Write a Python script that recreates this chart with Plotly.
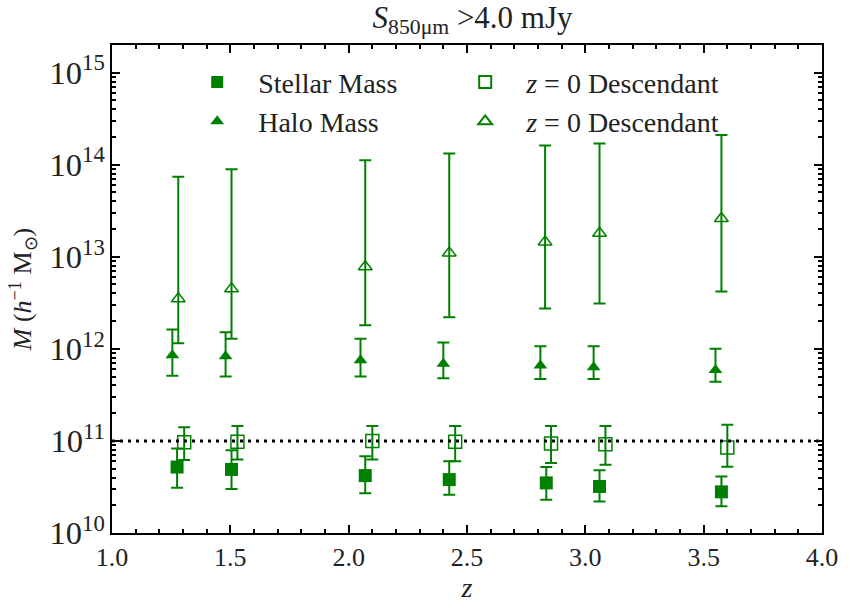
import plotly.graph_objects as go

# ---- data ----
z_stellar = [1.275, 1.505, 2.07, 2.425, 2.835, 3.06, 3.575]
m_stellar = [5.2e10, 4.9e10, 4.2e10, 3.8e10, 3.5e10, 3.2e10, 2.8e10]
m_stellar_hi = [8.3e10, 7.9e10, 6.8e10, 6.0e10, 5.2e10, 4.8e10, 4.1e10]
m_stellar_lo = [3.1e10, 3.0e10, 2.7e10, 2.6e10, 2.3e10, 2.2e10, 1.95e10]

z_sdesc = [1.305, 1.53, 2.10, 2.45, 2.855, 3.085, 3.60]
m_sdesc = [9.7e10, 9.8e10, 1.0e11, 9.8e10, 9.4e10, 9.2e10, 8.5e10]
m_sdesc_hi = [1.41e11, 1.45e11, 1.45e11, 1.45e11, 1.45e11, 1.45e11, 1.5e11]
m_sdesc_lo = [6.2e10, 6.3e10, 6.3e10, 6.0e10, 5.75e10, 5.5e10, 5.25e10]

z_halo = [1.255, 1.48, 2.05, 2.40, 2.81, 3.035, 3.55]
m_halo = [8.5e11, 8.3e11, 7.5e11, 6.9e11, 6.6e11, 6.3e11, 5.9e11]
m_halo_hi = [1.62e12, 1.51e12, 1.29e12, 1.17e12, 1.07e12, 1.07e12, 1.0e12]
m_halo_lo = [5.1e11, 5.0e11, 5.0e11, 4.8e11, 4.7e11, 4.7e11, 4.4e11]

z_hdesc = [1.28, 1.505, 2.07, 2.425, 2.83, 3.06, 3.575]
m_hdesc = [3.5e12, 4.5e12, 7.8e12, 1.1e13, 1.45e13, 1.8e13, 2.6e13]
m_hdesc_hi = [7.4e13, 8.9e13, 1.12e14, 1.32e14, 1.62e14, 1.7e14, 2.1e14]
m_hdesc_lo = [1.15e12, 1.29e12, 1.8e12, 2.2e12, 2.75e12, 3.1e12, 4.2e12]

reference_mass = 1e11

GREEN = "#008000"
FONT = "Liberation Serif"
PAD = "&nbsp;&nbsp;&nbsp;"


def err(v, hi, lo):
    return dict(type="data", symmetric=False,
                array=[h - x for h, x in zip(hi, v)],
                arrayminus=[x - l for l, x in zip(lo, v)],
                color=GREEN, thickness=2, width=6)


fig = go.Figure()
fig.add_trace(go.Scatter(x=z_stellar, y=m_stellar, mode="markers", name=PAD + "Stellar Mass",
                         marker=dict(symbol="square", size=13, color=GREEN),
                         error_y=err(m_stellar, m_stellar_hi, m_stellar_lo)))
fig.add_trace(go.Scatter(x=z_sdesc, y=m_sdesc, mode="markers", name=PAD + "<i>z</i> = 0 Descendant",
                         marker=dict(symbol="square-open", size=13, color=GREEN, line=dict(width=1.5)),
                         error_y=err(m_sdesc, m_sdesc_hi, m_sdesc_lo)))
fig.add_trace(go.Scatter(x=z_halo, y=m_halo, mode="markers", name=PAD + "Halo Mass",
                         marker=dict(symbol="triangle-up", size=12, color=GREEN),
                         error_y=err(m_halo, m_halo_hi, m_halo_lo)))
fig.add_trace(go.Scatter(x=z_hdesc, y=m_hdesc, mode="markers", name=PAD + "<i>z</i> = 0 Descendant",
                         marker=dict(symbol="triangle-up-open", size=12, color=GREEN, line=dict(width=1.5)),
                         error_y=err(m_hdesc, m_hdesc_hi, m_hdesc_lo)))

fig.add_hline(y=reference_mass, line=dict(color="black", width=3, dash="3px,5px"))

fig.update_layout(
    width=850, height=608,
    margin=dict(l=112, r=19, t=45, b=68),
    paper_bgcolor="white", plot_bgcolor="white",
    font=dict(family=FONT, size=26, color="#222222"),
    title=dict(text="<i>S</i><sub>850μm</sub> >4.0 mJy", x=0.556, xanchor="center",
               y=0.972, yanchor="middle", font=dict(family=FONT, size=31)),
    legend=dict(orientation="h", x=0.12, y=0.975, xanchor="left", yanchor="top",
                entrywidth=223, entrywidthmode="pixels", bgcolor="rgba(0,0,0,0)",
                font=dict(family=FONT, size=28), tracegroupgap=0, itemsizing="constant"),
    showlegend=True,
)
fig.update_xaxes(range=[1.0, 4.0], dtick=0.5, tick0=1.0, tickformat=".1f",
                 ticks="inside", ticklen=8, tickwidth=1.5, tickcolor="black",
                 tickfont=dict(family=FONT, size=26),
                 minor=dict(ticks="inside", ticklen=4, dtick=0.1, tickcolor="black", showgrid=False),
                 showline=True, linecolor="black", linewidth=2, mirror="ticks",
                 showgrid=False, zeroline=False,
                 title=dict(text="<i>z</i>", standoff=4, font=dict(family=FONT, size=28)))
fig.update_yaxes(type="log", range=[10, 15.3], dtick=1, exponentformat="power",
                 ticks="inside", ticklen=8, tickwidth=1.5, tickcolor="black",
                 tickfont=dict(family=FONT, size=26),
                 minor=dict(ticks="inside", ticklen=4, dtick="D1", tickcolor="black", showgrid=False),
                 showline=True, linecolor="black", linewidth=2, mirror="ticks",
                 showgrid=False, zeroline=False,
                 title=dict(text="<i>M</i> (<i>h</i><sup>−1</sup> M<sub>⊙</sub>)", standoff=10,
                            font=dict(family=FONT, size=26)))

fig.write_html("out.html")
